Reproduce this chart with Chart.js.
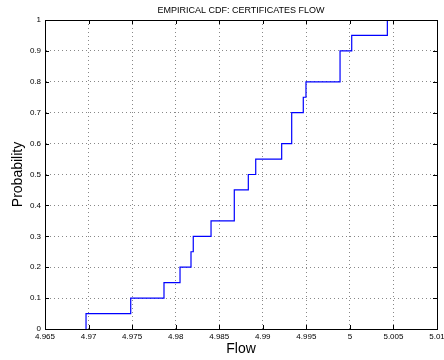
<!DOCTYPE html>
<html>
<head>
<meta charset="utf-8">
<script src="https://cdn.jsdelivr.net/npm/chart.js@4"></script>
<style>
  body { margin: 0; background: #fff; }
  canvas { display: block; }
</style>
</head>
<body>
<canvas id="cdfChart" width="444" height="360"></canvas>
<script>
// sorted flow samples (first one repeated for the 0 starting level)
let flowValues = [4.96971, 4.96971, 4.97484, 4.97866, 4.98050, 4.98176, 4.98202, 4.98406,
    4.98673, 4.98673, 4.98834, 4.98919, 4.99217, 4.99332, 4.99332, 4.99465,
    4.99496, 4.99887, 4.99887, 5.00021, 5.00430];
let probValues = [0, 0.05, 0.1, 0.15, 0.2, 0.25, 0.3, 0.35, 0.4, 0.45, 0.5, 0.55,
    0.6, 0.65, 0.7, 0.75, 0.8, 0.85, 0.9, 0.95, 1];
let xTicks = [4.965, 4.97, 4.975, 4.98, 4.985, 4.99, 4.995, 5, 5.005, 5.01];
let yTicks = [0, 0.1, 0.2, 0.3, 0.4, 0.5, 0.6, 0.7, 0.8, 0.9, 1];

const font = "'Liberation Sans', Arial, Helvetica, sans-serif";

let points = flowValues.map((v, i) => ({ x: v, y: probValues[i] }));

// matlab style frame: box all round, ticks pointing inwards, title over the plot area
const framePlugin = {
    id: 'frame',
    afterDraw(chart) {
        const ctx = chart.ctx;
        const a = chart.chartArea;
        const xs = chart.scales.x, ys = chart.scales.y;
        ctx.save();
        ctx.strokeStyle = '#000';
        ctx.lineWidth = 1;
        ctx.strokeRect(a.left + 0.5, a.top + 0.5, a.right - a.left, a.bottom - a.top);
        ctx.beginPath();
        xTicks.forEach(t => {
            let px = Math.round(xs.getPixelForValue(t)) + 0.5;
            ctx.moveTo(px, a.bottom); ctx.lineTo(px, a.bottom - 4);
            ctx.moveTo(px, a.top); ctx.lineTo(px, a.top + 4);
        });
        yTicks.forEach(t => {
            let py = Math.round(ys.getPixelForValue(t)) + 0.5;
            ctx.moveTo(a.left, py); ctx.lineTo(a.left + 4, py);
            ctx.moveTo(a.right, py); ctx.lineTo(a.right - 4, py);
        });
        ctx.stroke();
        ctx.fillStyle = '#000';
        ctx.font = '9px ' + font;
        ctx.textAlign = 'center';
        ctx.textBaseline = 'middle';
        ctx.fillText('EMPIRICAL CDF: CERTIFICATES FLOW', (a.left + a.right) / 2, 11);
        ctx.restore();
    }
};

var ctx = document.getElementById('cdfChart').getContext('2d');
var chart = new Chart(ctx, {
    type: 'scatter',
    data: {
        datasets: [{
            label: 'Empirical CDF',
            data: points,
            showLine: true,
            stepped: true,
            borderColor: '#0000ff',
            borderWidth: 1.2,
            pointRadius: 0,
            fill: false
        }]
    },
    options: {
        responsive: false,
        animation: false,
        layout: { padding: { top: 20, right: 7 } },
        plugins: {
            legend: { display: false },
            tooltip: { enabled: false }
        },
        scales: {
            x: {
                type: 'linear',
                min: 4.965,
                max: 5.01,
                afterBuildTicks: s => { s.ticks = xTicks.map(v => ({ value: v })); },
                afterFit: s => { s.height = 31; s.paddingLeft = 0; s.paddingRight = 0; },
                ticks: {
                    autoSkip: false,
                    maxRotation: 0,
                    padding: 3,
                    color: '#000',
                    font: { family: font, size: 8 },
                    callback: v => String(parseFloat(v.toFixed(3)))
                },
                grid: { color: '#888', drawTicks: false },
                border: { color: '#000', width: 1, dash: [1, 3] },
                title: {
                    display: true,
                    text: 'Flow',
                    color: '#000',
                    font: { family: font, size: 14 },
                    padding: { top: 0, bottom: 2 }
                }
            },
            y: {
                min: 0,
                max: 1,
                afterBuildTicks: s => { s.ticks = yTicks.map(v => ({ value: v })); },
                afterFit: s => { s.width = 45; },
                ticks: {
                    padding: 4,
                    color: '#000',
                    font: { family: font, size: 8 },
                    callback: v => String(parseFloat(v.toFixed(2)))
                },
                grid: { color: '#888', drawTicks: false },
                border: { color: '#000', width: 1, dash: [1, 3] },
                title: {
                    display: true,
                    text: 'Probability',
                    color: '#000',
                    font: { family: font, size: 14 },
                    padding: { top: 10, bottom: 0 }
                }
            }
        }
    },
    plugins: [framePlugin]
});
</script>
</body>
</html>
